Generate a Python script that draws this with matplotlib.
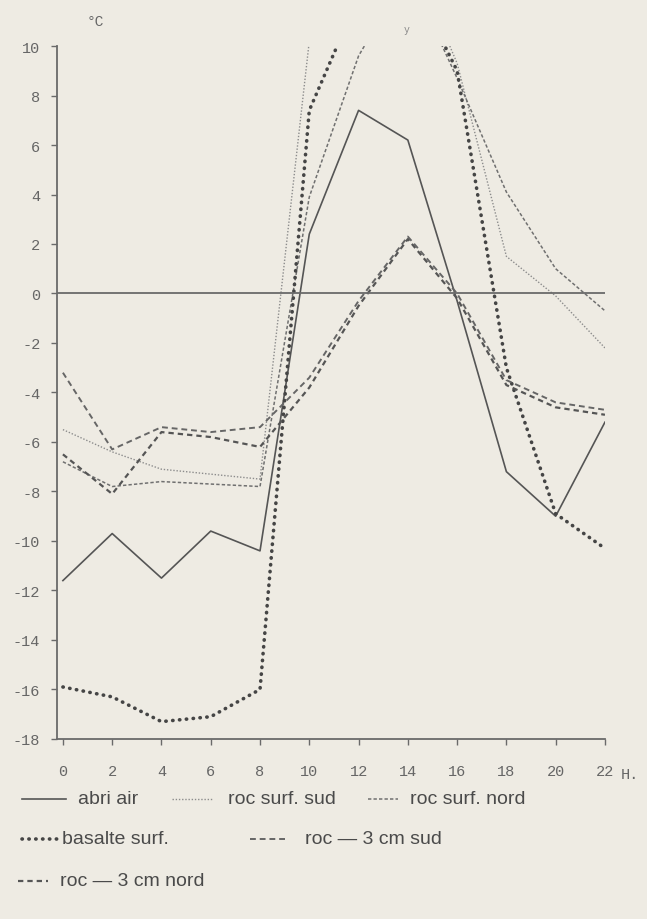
import matplotlib
matplotlib.use("Agg")
import matplotlib.pyplot as plt

plt.rcParams['axes.unicode_minus'] = False

hours = [0, 2, 4, 6, 8, 10, 12, 14, 16, 18, 20, 22]
abri_air = [-11.6, -9.7, -11.5, -9.6, -10.4, 2.4, 7.4, 6.2, -0.3, -7.2, -9.0, -5.2]
roc_surf_sud = [-5.5, -6.4, -7.1, -7.3, -7.5, 10.2, 14.0, 14.0, 9.3, 1.5, -0.1, -2.2]
roc_surf_nord = [-6.8, -7.8, -7.6, -7.7, -7.8, 3.9, 9.6, 13.0, 8.7, 4.1, 1.0, -0.7]
basalte_surf = [-15.9, -16.3, -17.3, -17.1, -16.0, 7.4, 12.0, 13.0, 9.0, -3.0, -8.9, -10.3]
roc_3cm_sud = [-3.2, -6.3, -5.4, -5.6, -5.4, -3.4, -0.3, 2.3, 0.0, -3.5, -4.4, -4.7]
roc_3cm_nord = [-6.5, -8.1, -5.6, -5.8, -6.2, -3.8, -0.5, 2.2, -0.2, -3.7, -4.6, -4.9]

xticks = [0, 2, 4, 6, 8, 10, 12, 14, 16, 18, 20, 22]
xticklabels = ["0", "2", "4", "6", "8", "10", "12", "14", "16", "18", "20", "22"]
yticks = [10, 8, 6, 4, 2, 0, -2, -4, -6, -8, -10, -12, -14, -16, -18]
yticklabels = ["10", "8", "6", "4", "2", "0", "-2", "-4", "-6", "-8", "-10", "-12", "-14", "-16", "-18"]

paper = '#eeebe3'

fig = plt.figure(figsize=(6.47, 9.2), dpi=100, facecolor=paper)
ax = fig.add_axes([0.0881, 0.1957, 0.935 - 0.0881, 0.9489 - 0.1957])
ax.set_facecolor(paper)

ax.plot(hours, abri_air, color='#555555', lw=1.2, ls='-')
ax.plot(hours, roc_surf_sud, color='#8c8c8c', lw=1.0, ls=(0, (1, 1.3)))
ax.plot(hours, roc_surf_nord, color='#707070', lw=1.1, ls=(0, (2.2, 1.4)))
ax.plot(hours, basalte_surf, color='#454545', lw=2.6, ls=(0, (0.1, 1.8)),
        solid_capstyle='round', dash_capstyle='round')
ax.plot(hours, roc_3cm_sud, color='#666666', lw=1.4, ls=(0, (3, 2)))
ax.plot(hours, roc_3cm_nord, color='#555555', lw=1.6, ls=(0, (2.4, 1.8)))

ax.axhline(0, color='#6a6a6a', lw=1.3)

ax.set_xlim(-0.24, 22)
ax.set_ylim(-18, 10)
for s in ['top', 'right']:
    ax.spines[s].set_visible(False)
for s in ['left', 'bottom']:
    ax.spines[s].set_color('#6a6a6a')
    ax.spines[s].set_linewidth(1.3)

mono = ['Liberation Mono', 'DejaVu Sans Mono']
ax.set_xticks(xticks)
ax.set_xticklabels(xticklabels, family=mono, fontsize=11, color='#666666')
ax.set_yticks(yticks)
ax.set_yticklabels(yticklabels, family=mono, fontsize=11, color='#666666')
ax.tick_params(axis='both', direction='out', length=4, width=1.0, color='#6a6a6a')
ax.tick_params(axis='x', pad=14)
ax.tick_params(axis='y', pad=8)

fig.text(630 / 647, 1 - 775 / 920, "H.", family=mono, fontsize=11, color='#666666',
         ha='center', va='center')
fig.text(95 / 647, 1 - 22 / 920, "°C", family=mono, fontsize=10.5, color='#666666',
         ha='center', va='center')
fig.text(407 / 647, 1 - 30 / 920, "y", family=mono, fontsize=7, color='#888888',
         ha='center', va='center')

# legend, drawn by hand in figure pixel coordinates
sans = ['Liberation Sans', 'DejaVu Sans']
lfs = 14
lcol = '#4a4a4a'

def px(x, y):
    return x / 647, 1 - y / 920

def sample(x0, x1, y, **kw):
    a, b = px(x0, y)
    c, _ = px(x1, y)
    fig.add_artist(plt.Line2D([a, c], [b, b], transform=fig.transFigure, **kw))

def label(x, y, s):
    a, b = px(x, y)
    fig.text(a, b, s, family=sans, fontsize=lfs, color=lcol, ha='left', va='center')

r1, r2, r3 = 800, 840, 882
sample(22, 66, r1, color='#555555', lw=1.2)
label(78, r1, "abri air")
sample(172, 212, r1, color='#8c8c8c', lw=1.0, ls=(0, (1, 1.3)))
label(228, r1, "roc surf. sud")
sample(368, 398, r1, color='#707070', lw=1.1, ls=(0, (2.2, 1.4)))
label(410, r1, "roc surf. nord")

sample(22, 58, r2, color='#454545', lw=2.6, ls=(0, (0.1, 1.8)), dash_capstyle='round')
label(62, r2, "basalte surf.")
sample(250, 285, r2, color='#666666', lw=1.4, ls=(0, (3, 2)))
label(305, r2, "roc — 3 cm sud")

sample(18, 48, r3, color='#555555', lw=1.6, ls=(0, (2.4, 1.8)))
label(60, r3, "roc — 3 cm nord")

fig.savefig("out.png", dpi=100, facecolor=paper)
